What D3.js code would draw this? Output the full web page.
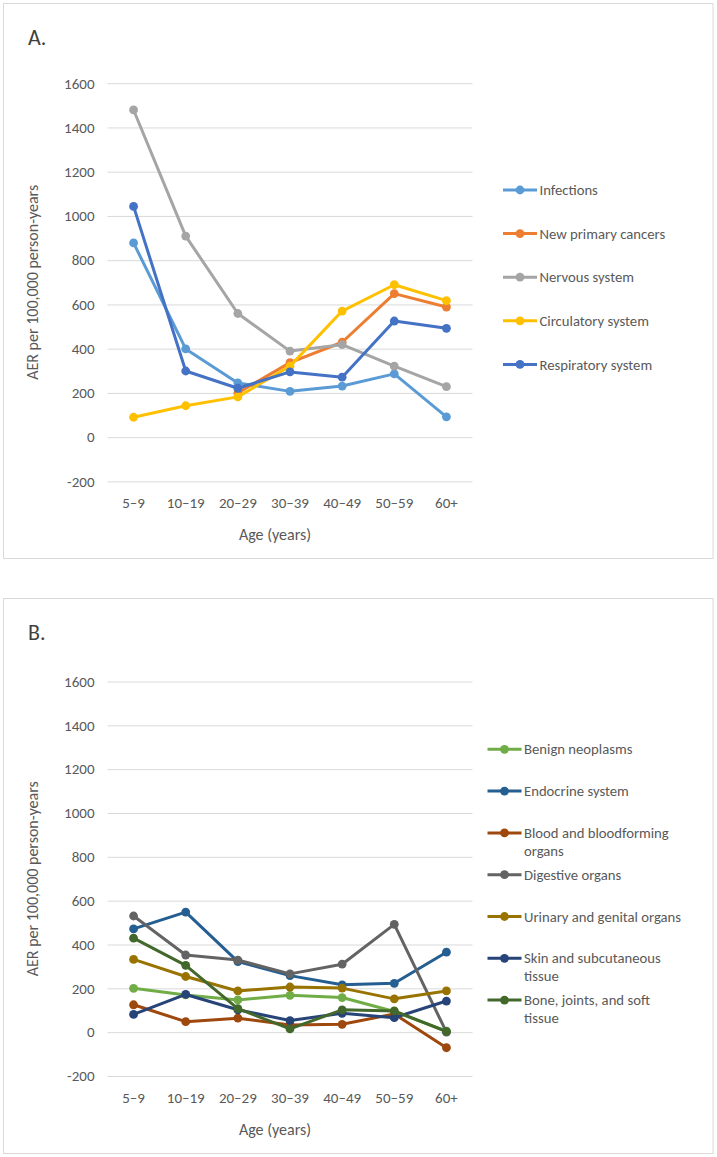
<!DOCTYPE html>
<html>
<head>
<meta charset="utf-8">
<script src="https://cdn.jsdelivr.net/npm/d3@7"></script>
<style>
    body { margin: 0; background: #fff; }
    text { font-family: Carlito, Calibri, Lato, "Open Sans", sans-serif; }
</style>
</head>
<body>
<script>
//categories on the x axis
var ageGroups = ["5–9", "10–19", "20–29", "30–39", "40–49", "50–59", "60+"];
var yTickValues = [-200, 0, 200, 400, 600, 800, 1000, 1200, 1400, 1600];

//panel A series (AER per 100,000 person-years)
var seriesNamesA = ["Infections", "New primary cancers", "Nervous system", "Circulatory system", "Respiratory system"];
var infections = [878, 399, 245, 207, 231, 286, 92];
var newPrimaryCancers = [null, null, 200, 337, 429, 649, 588];
var nervousSystem = [1479, 909, 559, 389, 418, 321, 228];
var circulatorySystem = [90, 142, 182, 321, 570, 689, 617];
var respiratorySystem = [1043, 299, 221, 295, 271, 525, 492];

//panel B series
var seriesNamesB = ["Benign neoplasms", "Endocrine system", "Blood and bloodforming organs", "Digestive organs",
    "Urinary and genital organs", "Skin and subcutaneous tissue", "Bone, joints, and soft tissue"];
var benignNeoplasms = [200, 170, 147, 168, 158, 94, 5];
var endocrineSystem = [471, 548, 322, 258, 216, 223, 365];
var bloodOrgans = [125, 48, 64, 33, 36, 83, -71];
var digestiveOrgans = [530, 352, 329, 266, 310, 492, 0];
var urinaryGenital = [332, 254, 188, 206, 201, 152, 188];
var skinTissue = [81, 172, 102, 53, 86, 66, 142];
var boneJoints = [429, 305, 107, 15, 102, 97, 3];

var colorsA = ["#5B9BD5", "#ED7D31", "#A5A5A5", "#FFC000", "#4472C4"];
var colorsB = ["#70AD47", "#255E91", "#9E480E", "#636363", "#997300", "#264478", "#43682B"];

window.onload = function(){
    var w = 717, h = 1157;

    var svg = d3.select("body")
        .append("svg")
        .attr("width", w)
        .attr("height", h);

    drawPanel(svg, {
        letter: "A.",
        top: 3, bottom: 558,
        plotTop: 83.2, plotBottom: 481.4,
        names: seriesNamesA,
        values: [infections, newPrimaryCancers, nervousSystem, circulatorySystem, respiratorySystem],
        colors: colorsA,
        legendX: 503, legendY: 190, legendStep: 43.6
    });

    drawPanel(svg, {
        letter: "B.",
        top: 598, bottom: 1153,
        plotTop: 681.5, plotBottom: 1076,
        names: seriesNamesB,
        values: [benignNeoplasms, endocrineSystem, bloodOrgans, digestiveOrgans, urinaryGenital, skinTissue, boneJoints],
        colors: colorsB,
        legendX: 487.5, legendY: 749.3, legendStep: 41.8
    });
};

function drawPanel(svg, p){
    var g = svg.append("g").attr("class", "panel");

    //frame round the panel
    g.append("rect")
        .attr("x", 3.5)
        .attr("y", p.top + 0.5)
        .attr("width", 709.5)
        .attr("height", p.bottom - p.top)
        .style("fill", "none")
        .style("stroke", "#d9d9d9");

    g.append("text")
        .attr("x", 28)
        .attr("y", p.top + 42)
        .style("font-size", "22px")
        .style("fill", "#404040")
        .text(p.letter);

    var x = d3.scaleBand()
        .domain(ageGroups)
        .range([107.5, 472.5]);

    var y = d3.scaleLinear()
        .domain([-200, 1600])
        .range([p.plotBottom, p.plotTop]);

    //gridlines and y tick labels (plain hyphen for negatives, as in the original)
    var yAxis = g.append("g")
        .attr("transform", "translate(107.5,0)")
        .call(d3.axisLeft(y)
            .tickValues(yTickValues)
            .tickSize(-365)
            .tickPadding(13)
            .tickFormat(function(d){ return String(d); }));
    yAxis.select(".domain").remove();
    yAxis.selectAll(".tick line").style("stroke", "#d9d9d9");
    yAxis.selectAll(".tick text")
        .style("font-size", "15px")
        .style("fill", "#595959")
        .style("font-family", "Carlito, Calibri, Lato, sans-serif");

    //x tick labels only
    var xAxis = g.append("g")
        .attr("transform", "translate(0," + p.plotBottom + ")")
        .call(d3.axisBottom(x).tickSize(0).tickPadding(16));
    xAxis.select(".domain").remove();
    xAxis.selectAll(".tick text")
        .style("font-size", "15px")
        .style("fill", "#595959")
        .style("font-family", "Carlito, Calibri, Lato, sans-serif");

    //axis titles
    g.append("text")
        .attr("x", 275)
        .attr("y", p.plotBottom + 59)
        .attr("text-anchor", "middle")
        .style("font-size", "16px")
        .style("fill", "#595959")
        .text("Age (years)");

    g.append("text")
        .attr("transform", "translate(38," + (p.plotTop + p.plotBottom) / 2 + ") rotate(-90)")
        .attr("text-anchor", "middle")
        .style("font-size", "16px")
        .style("fill", "#595959")
        .text("AER per 100,000 person-years");

    var line = d3.line()
        .defined(function(d){ return d != null; })
        .x(function(d, i){ return x(ageGroups[i]) + x.bandwidth() / 2; })
        .y(function(d){ return y(d); });

    //one line plus its markers per series, drawn in order
    p.values.forEach(function(vals, s){
        var sg = g.append("g").attr("class", "series");
        sg.append("path")
            .datum(vals)
            .attr("d", line)
            .style("fill", "none")
            .style("stroke", p.colors[s])
            .style("stroke-width", 3)
            .style("stroke-linejoin", "round");
        sg.selectAll("circle")
            .data(vals.map(function(v, i){ return {v: v, i: i}; }).filter(function(d){ return d.v != null; }))
            .enter()
            .append("circle")
            .attr("cx", function(d){ return x(ageGroups[d.i]) + x.bandwidth() / 2; })
            .attr("cy", function(d){ return y(d.v); })
            .attr("r", 4.4)
            .style("fill", p.colors[s]);
    });

    //legend
    var leg = g.selectAll(".legend-item")
        .data(p.names)
        .enter()
        .append("g")
        .attr("class", "legend-item")
        .attr("transform", function(d, i){ return "translate(" + p.legendX + "," + (p.legendY + i * p.legendStep) + ")"; });

    leg.append("line")
        .attr("x1", 0).attr("x2", 34)
        .style("stroke", function(d, i){ return p.colors[i]; })
        .style("stroke-width", 3);
    leg.append("circle")
        .attr("cx", 17)
        .attr("r", 4.4)
        .style("fill", function(d, i){ return p.colors[i]; });
    leg.append("text")
        .attr("x", 36.5)
        .attr("dy", "0.35em")
        .style("font-size", "14.7px")
        .style("fill", "#595959")
        .text(function(d){ return d; })
        .each(function(){ wrap(d3.select(this), 161); });
}

//split a legend label over lines when it is too long
function wrap(text, maxWidth){
    var words = text.text().split(" "),
        xPos = text.attr("x"),
        current = [];
    text.text(null);
    var tspan = text.append("tspan").attr("x", xPos);
    words.forEach(function(word){
        current.push(word);
        tspan.text(current.join(" "));
        if (tspan.node().getComputedTextLength() > maxWidth && current.length > 1){
            current.pop();
            tspan.text(current.join(" "));
            current = [word];
            tspan = text.append("tspan").attr("x", xPos).attr("dy", "18px").text(word);
        }
    });
}
</script>
</body>
</html>
